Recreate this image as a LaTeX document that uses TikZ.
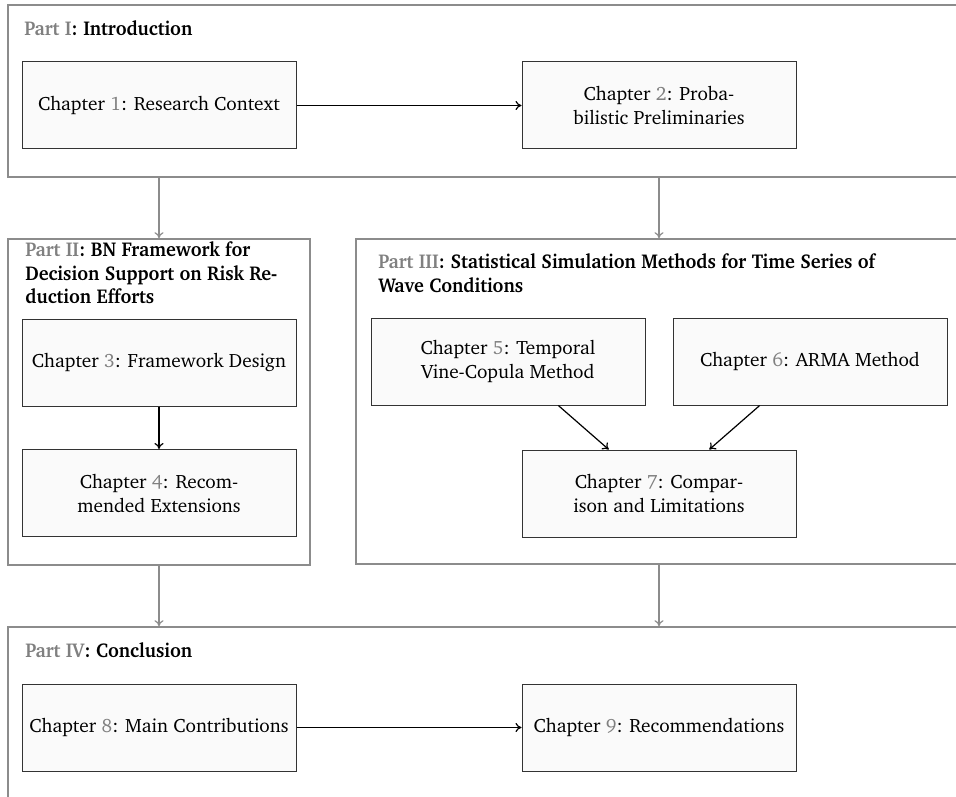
\documentclass[tikz,border=0pt]{standalone}
\usepackage[T1]{fontenc}
\usepackage{charter}
\usepackage{graphicx}
\usetikzlibrary{arrows.meta}
\definecolor{partgray}{HTML}{8C8C8C}
\definecolor{numgray}{HTML}{808080}
\definecolor{boxfill}{HTML}{FAFAFA}
\definecolor{boxline}{HTML}{333333}
\newcommand\chnum[1]{Chapter \textcolor{numgray}{#1}:}
\newcommand\partnum[1]{\textcolor{numgray}{Part #1}}
\newcommand\hd[1]{\scalebox{0.935}[1]{\begin{tabular}[t]{@{}l@{}}#1\end{tabular}}}
\begin{document}
\begin{tikzpicture}[x=0.5pt,y=-0.5pt,
  chapbox/.style={draw=boxline, fill=boxfill, line width=0.5pt,
    minimum width=137pt, minimum height=43.5pt, align=center, inner sep=0pt,
    font=\fontsize{9.65}{12}\selectfont},
  partbox/.style={draw=partgray, line width=0.8pt, inner sep=0pt},
  parthead/.style={anchor=base west, inner sep=0pt,
    font=\bfseries\fontsize{10}{11.8}\selectfont},
  flow/.style={-{To[length=3pt,width=4.5pt]}, line width=0.6pt, black},
  partflow/.style={-{To[length=3pt,width=4.5pt]}, line width=0.6pt, partgray}]

\useasboundingbox (0,0) rectangle (956,796);
\clip (0,0) rectangle (956,796);

% part frames
\node[partbox, minimum width=479pt, minimum height=86pt] (p1) at (487,91) {};
\node[partbox, minimum width=151pt, minimum height=163pt] (p2) at (159,402) {};
\node[partbox, minimum width=303pt, minimum height=162.5pt] (p3) at (659,401.5) {};
\node[partbox, minimum width=479pt, minimum height=89pt] (p4) at (487,716) {};

% headings (base anchor = baseline of the first line)
\node[parthead] (h1) at (24,36) {\hd{\partnum{I}: Introduction}};
\node[parthead] (h2) at (25,256.5) {\hd{\partnum{II}: BN Framework for\\Decision Support on Risk Re-\\duction Efforts}};
\node[parthead] (h3) at (378,269) {\hd{\partnum{III}: Statistical Simulation Methods for Time Series of\\Wave Conditions}};
\node[parthead] (h4) at (25,657) {\hd{\partnum{IV}: Conclusion}};

% chapters
\node[chapbox] (c1) at (159,105.5) {\chnum{1} Research Context};
\node[chapbox] (c2) at (659,105.5) {\chnum{2} Proba-\\bilistic Preliminaries};
\node[chapbox] (c3) at (159,362.5) {\chnum{3} Framework Design};
\node[chapbox] (c4) at (159,493) {\chnum{4} Recom-\\mended Extensions};
\node[chapbox] (c5) at (508,361.5) {\chnum{5} Temporal\\Vine-Copula Method};
\node[chapbox] (c6) at (810,361.5) {\chnum{6} ARMA Method};
\node[chapbox] (c7) at (659,493.5) {\chnum{7} Compar-\\ison and Limitations};
\node[chapbox] (c8) at (159,727.5) {\chnum{8} Main Contributions};
\node[chapbox] (c9) at (659,727.5) {\chnum{9} Recommendations};

% chapter connectors
\draw[flow] (c1) -- (c2);
\draw[flow] (c3) -- (c4);
\draw[flow] (c5) -- (c7);
\draw[flow] (c6) -- (c7);
\draw[flow] (c8) -- (c9);

% part connectors
\draw[partflow] (c1 |- p1.south) -- (c3 |- p2.north);
\draw[partflow] (c2 |- p1.south) -- (c7 |- p3.north);
\draw[partflow] (c4 |- p2.south) -- (c8 |- p4.north);
\draw[partflow] (c7 |- p3.south) -- (c9 |- p4.north);
\end{tikzpicture}
\end{document}
